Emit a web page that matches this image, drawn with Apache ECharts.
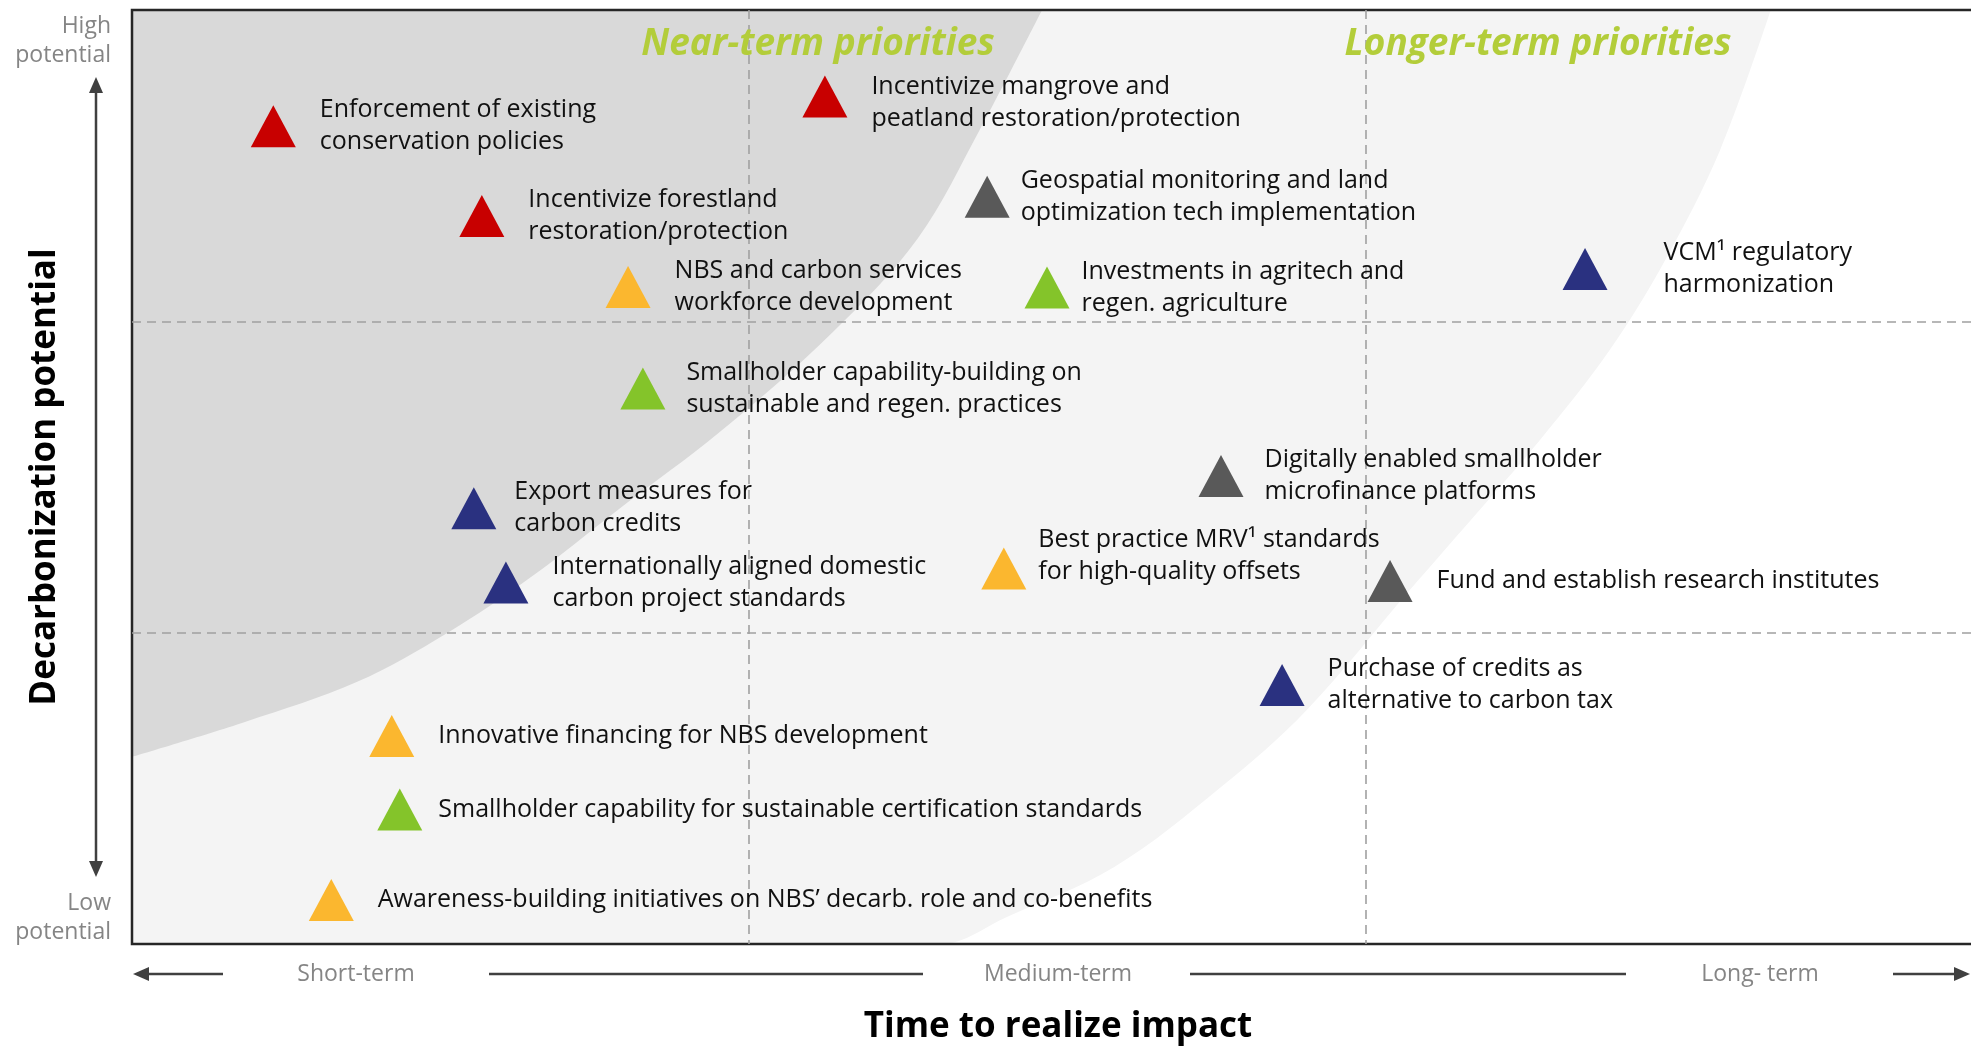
<!DOCTYPE html>
<html>
<head>
<meta charset="utf-8">
<script src="https://cdn.jsdelivr.net/npm/echarts@6/dist/echarts.min.js"></script>
<style>
html, body { margin: 0; padding: 0; background: #fff; }
#chart { width: 1971px; height: 1046px; }
</style>
</head>
<body>
<div id="chart"></div>
<script>
// levers (x = time to impact 0..3, y = decarb potential 0..3)
var leverNames = [
	'Enforcement of existing\nconservation policies',
	'Incentivize forestland\nrestoration/protection',
	'NBS and carbon services\nworkforce development',
	'Incentivize mangrove and\npeatland restoration/protection',
	'Geospatial monitoring and land\noptimization tech implementation',
	'Investments in agritech and\nregen. agriculture',
	'VCM\u00b9 regulatory\nharmonization',
	'Smallholder capability-building on\nsustainable and regen. practices',
	'Export measures for\ncarbon credits',
	'Internationally aligned domestic\ncarbon project standards',
	'Digitally enabled smallholder\nmicrofinance platforms',
	'Best practice MRV\u00b9 standards\nfor high-quality offsets',
	'Fund and establish research institutes',
	'Purchase of credits as\nalternative to carbon tax',
	'Innovative financing for NBS development',
	'Smallholder capability for sustainable certification standards',
	'Awareness-building initiatives on NBS\u2019 decarb. role and co-benefits'
];
var timeToImpact = [0.229, 0.567, 0.804, 1.123, 1.386, 1.483, 2.355, 0.828, 0.554, 0.606, 1.765, 1.413, 2.039, 1.864, 0.421, 0.434, 0.323];
var decarbPotential = [2.627, 2.338, 2.110, 2.722, 2.400, 2.109, 2.168, 1.784, 1.400, 1.161, 1.503, 1.206, 1.166, 0.832, 0.668, 0.432, 0.141];
var leverGroup = ['protect', 'protect', 'nbs', 'protect', 'tech', 'agri', 'market', 'agri', 'market', 'market', 'tech', 'nbs', 'tech', 'market', 'nbs', 'agri', 'nbs'];
var groupKeys = ['protect', 'nbs', 'agri', 'market', 'tech'];

var timeBands = ['Short-term', 'Medium-term', 'Long- term'];
var potentialEnds = ['High\npotential', 'Low\npotential'];
var zoneTitles = ['Near-term priorities', 'Longer-term priorities'];
var xTitle = 'Time to realize impact';
var yTitle = 'Decarbonization potential';

// edges of the shaded zones
var nearTermEdge = [[0, 0.601], [0.183, 0.713], [0.365, 0.842], [0.511, 0.999], [0.645, 1.176], [0.791, 1.400],
	[0.953, 1.645], [1.136, 1.966], [1.274, 2.268], [1.374, 2.615], [1.475, 3.0]];
var longerTermEdge = [[0, 0], [1.310, 0], [1.418, 0.087], [1.592, 0.247], [1.765, 0.504], [1.904, 0.752], [2.071, 1.137],
	[2.177, 1.378], [2.282, 1.619], [2.395, 1.908], [2.485, 2.197], [2.574, 2.550], [2.656, 3.0]];

var groupColor = { protect: '#C80000', nbs: '#FBB72F', agri: '#84C42A', market: '#2A3180', tech: '#595959' };
// label gap / vertical nudge per lever
var labelGap = { 4: 11, 5: 12, 6: 56, 7: 21, 8: 18, 10: 21, 11: 12, 13: 23, 15: 16 };
var labelDy = { 3: 6, 11: -13 };

var chartDom = document.getElementById('chart');
var myChart = echarts.init(chartDom);

var series = [
	{
		type: 'line', data: longerTermEdge, smooth: 0.35, symbol: 'none', silent: true,
		lineStyle: { width: 0 }, areaStyle: { color: '#F4F4F4', origin: 'end', opacity: 1 }, z: -2
	},
	{
		type: 'line', data: nearTermEdge, smooth: 0.35, symbol: 'none', silent: true,
		lineStyle: { width: 0 }, areaStyle: { color: '#D9D9D9', origin: 'end', opacity: 1 }, z: -1
	}
];

groupKeys.forEach(function(g) {
	var pts = [];
	for (var i = 0; i < leverNames.length; i++) {
		if (leverGroup[i] != g) continue;
		pts.push({
			name: leverNames[i],
			value: [timeToImpact[i], decarbPotential[i]],
			label: { distance: labelGap[i] || 24, offset: [0, labelDy[i] || 0] }
		});
	}
	series.push({
		type: 'scatter', name: g, data: pts, symbol: 'triangle', symbolSize: [45, 42], z: 5,
		itemStyle: { color: groupColor[g], opacity: 1 },
		label: {
			show: true, position: 'right', formatter: '{b}', color: '#111',
			fontFamily: 'Open Sans', fontSize: 25, lineHeight: 32
		}
	});
});

var splitStyle = { show: true, showMinLine: false, showMaxLine: false, lineStyle: { color: '#A0A0A0', width: 1.6, type: [9, 6] } };
var arrowColor = '#404040';
var greyText = '23px "Open Sans"';
var greyColor = '#858585';

var options = {
	animation: false,
	grid: {
		left: 132, top: 10, width: 1851, height: 934, outerBoundsMode: 'none',
		show: true, borderColor: '#262626', borderWidth: 2.5, backgroundColor: 'transparent'
	},
	xAxis: { type: 'value', min: 0, max: 3, interval: 1, axisLine: { show: false }, axisTick: { show: false }, axisLabel: { show: false }, splitLine: splitStyle, z: 0 },
	yAxis: { type: 'value', min: 0, max: 3, interval: 1, axisLine: { show: false }, axisTick: { show: false }, axisLabel: { show: false }, splitLine: splitStyle, z: 0 },
	series: series,
	graphic: [
		// y direction arrow
		{ type: 'line', shape: { x1: 96, y1: 90, x2: 96, y2: 864 }, style: { stroke: arrowColor, lineWidth: 2.5 } },
		{ type: 'polygon', shape: { points: [[96, 77], [89, 93], [103, 93]] }, style: { fill: arrowColor } },
		{ type: 'polygon', shape: { points: [[96, 877], [89, 861], [103, 861]] }, style: { fill: arrowColor } },
		{ type: 'text', x: 111, y: 12, style: { text: potentialEnds[0], font: greyText, fill: greyColor, align: 'right', textAlign: 'right', verticalAlign: 'top', lineHeight: 29 } },
		{ type: 'text', x: 111, y: 889, style: { text: potentialEnds[1], font: greyText, fill: greyColor, align: 'right', textAlign: 'right', verticalAlign: 'top', lineHeight: 29 } },
		{ type: 'text', x: 45, y: 477, rotation: Math.PI / 2, style: { text: yTitle, font: 'bold 35px "Open Sans"', fill: '#000', align: 'center', textAlign: 'center', verticalAlign: 'middle' } },
		// x direction arrow
		{ type: 'polygon', shape: { points: [[133, 974], [149, 967], [149, 981]] }, style: { fill: arrowColor } },
		{ type: 'line', shape: { x1: 145, y1: 974, x2: 223, y2: 974 }, style: { stroke: arrowColor, lineWidth: 2.5 } },
		{ type: 'line', shape: { x1: 489, y1: 974, x2: 923, y2: 974 }, style: { stroke: arrowColor, lineWidth: 2.5 } },
		{ type: 'line', shape: { x1: 1190, y1: 974, x2: 1626, y2: 974 }, style: { stroke: arrowColor, lineWidth: 2.5 } },
		{ type: 'line', shape: { x1: 1893, y1: 974, x2: 1958, y2: 974 }, style: { stroke: arrowColor, lineWidth: 2.5 } },
		{ type: 'polygon', shape: { points: [[1970, 974], [1954, 967], [1954, 981]] }, style: { fill: arrowColor } },
		{ type: 'text', x: 356, y: 974, style: { text: timeBands[0], font: greyText, fill: greyColor, align: 'center', textAlign: 'center', verticalAlign: 'middle' } },
		{ type: 'text', x: 1058, y: 974, style: { text: timeBands[1], font: greyText, fill: greyColor, align: 'center', textAlign: 'center', verticalAlign: 'middle' } },
		{ type: 'text', x: 1760, y: 974, style: { text: timeBands[2], font: greyText, fill: greyColor, align: 'center', textAlign: 'center', verticalAlign: 'middle' } },
		{ type: 'text', x: 1058, y: 1027, style: { text: xTitle, font: 'bold 35px "Open Sans"', fill: '#000', align: 'center', textAlign: 'center', verticalAlign: 'middle' } },
		// zone titles
		{ type: 'text', x: 818, y: 44, z: 10, style: { text: zoneTitles[0], font: 'italic bold 37px "Open Sans"', fill: '#B3CD3A', align: 'center', textAlign: 'center', verticalAlign: 'middle' } },
		{ type: 'text', x: 1538, y: 44, z: 10, style: { text: zoneTitles[1], font: 'italic bold 37px "Open Sans"', fill: '#B3CD3A', align: 'center', textAlign: 'center', verticalAlign: 'middle' } }
	]
};
myChart.setOption(options);
</script>
</body>
</html>
